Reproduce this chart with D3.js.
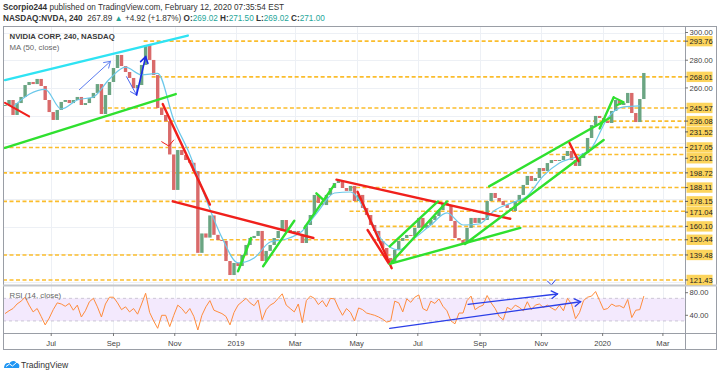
<!DOCTYPE html>
<html><head><meta charset="utf-8">
<script src="https://cdn.jsdelivr.net/npm/d3@7/dist/d3.min.js"></script>
<style>
html,body{margin:0;padding:0;background:#fff;}
svg{display:block;font-family:"Liberation Sans",Arial,sans-serif;}
</style></head><body>
<svg id="chart" width="720" height="373"></svg>
<script>
// ---------------- DATA ----------------
const startDate = "2018-05-16", stepDays = 4;
const closes = [
247.7,251.3,240.5,249.1,253.5,262.1,264.3,262.8,266.5,261.4,
251.3,242.6,236.9,244.1,249.9,251.3,249.1,251.3,253.5,247.7,
249.1,252.7,256.4,262.8,241.2,254.9,264.3,274.4,283.8,275.8,
271.5,267.2,259.9,262.1,276.6,291.0,280.2,269.3,245.5,240.5,
236.0,212.0,186.4,215.2,211.6,208.0,206.0,200.0,141.0,155.0,
152.0,168.0,154.0,150.3,149.6,135.1,125.0,133.7,131.5,139.5,
146.7,151.7,153.2,156.8,135.1,142.4,146.7,151.7,156.8,164.7,
157.5,156.8,156.8,153.9,148.1,161.1,168.3,182.8,177.0,175.5,
182.8,187.8,191.4,192.9,187.8,185.7,189.3,178.4,182.8,173.4,
168.3,161.1,156.8,149.6,144.5,137.3,134.4,143.1,149.6,151.7,
153.9,153.2,159.0,166.2,159.0,161.1,164.7,167.6,171.9,177.0,
175.5,164.0,151.7,150.3,148.1,159.0,166.2,162.6,166.2,164.7,
178.4,184.2,180.6,178.4,175.5,173.4,171.2,178.4,182.8,190.0,
196.5,192.9,195.0,202.2,200.1,205.8,208.0,207.3,208.0,210.9,
214.5,208.0,203.7,209.4,213.0,223.9,233.2,239.8,238.3,236.1,
234.7,243.4,251.3,247.7,249.1,256.4,241.9,235.4,252.0,270.8];

const maStart = 2, maStep = 4;
const maValues = [
246.3,255.5,259.0,244.8,251.3,253.5,266.5,275.0,269.5,270.5,
236.9,212.0,180.0,152.0,133.7,137.3,148.8,151.0,156.8,171.2,
184.2,184.9,169.8,149.6,143.1,151.7,161.1,169.8,161.1,161.8,
171.9,177.0,182.1,196.5,205.8,210.2,216.7,238.3,246.3,247.0];

const rsiValues = [
43,48,52,60,65,72,58,46,52,38,
23,35,50,62,60,56,61,49,58,37,
48,64,70,55,37,60,72,72,62,50,
55,46,52,42,60,79,45,30,17,40,
40,20,40,58,52,43,52,38,14,40,
55,66,49,46,43,38,23,45,58,64,
70,62,57,67,32,50,58,62,70,78,
58,52,46,60,27,66,74,70,59,66,
55,70,69,53,40,52,45,30,53,50,
44,42,40,37,33,28,30,65,62,46,
69,63,72,76,52,48,65,61,69,56,
48,30,25,44,44,66,74,50,55,58,
75,62,52,38,32,54,50,58,54,48,
64,50,58,60,54,58,53,49,58,48,
70,60,34,45,66,72,74,82,66,50,
52,60,56,57,53,68,36,49,50,74];

const levels     = [293.76,268.01,245.57,236.08,231.52,217.05,212.01,198.72,188.11,178.15,171.04,160.10,150.44,139.48,121.43];
const levelStart = ["2018-10-01","2018-10-09","2018-08-20","2018-08-24","2020-01-08","2018-05-14","2019-11-09","2018-05-14","2019-04-24","2018-05-14","2019-04-24","2019-05-24","2018-12-06","2018-05-14","2018-05-14"];
const priceTicks = [300,280,260,240,220,200,180,160,140,120];
const rsiTicks = [80,40];
const rsiBand = [30,70];
const viewStart = "2018-05-14", viewEnd = "2020-03-23";
const priceView = [117.8,304.7];
const rsiView = [8.7,93.6];

const trendLines = [
 {c:"#2fe3f3", w:2.4, p:[["2018-05-16",265.7],["2018-11-14",297.8]]},
 {c:"#2fe02f", w:2.4, p:[["2018-05-16",216.7],["2018-11-02",255.6]]},
 {c:"#f0201c", w:2.0, p:[["2018-05-16",249.3],["2018-06-09",239.4]]},
 {c:"#5b7cf0", w:1.0, p:[["2018-07-29",258.7],["2018-08-29",279.2]], arrow:true},
 {c:"#4a66ee", w:1.0, p:[["2018-09-14",268.1],["2018-09-24",254.9]], arrow:true},
 {c:"#1c2be6", w:1.6, p:[["2018-09-24",254.9],["2018-10-03",282.5]], arrow:true},
 {c:"#f0201c", w:2.4, p:[["2018-10-20",248.4],["2018-12-06",175.8]]},
 {c:"#f0201c", w:1.0, p:[["2018-10-19",221.2],["2018-10-26",218.1],["2018-10-31",222.4]]},
 {c:"#f0201c", w:2.4, p:[["2018-10-30",178.2],["2019-03-19",151.7]]},
 {c:"#2fe02f", w:2.4, p:[["2019-01-03",127.7],["2019-01-16",151.7]]},
 {c:"#2fe02f", w:2.4, p:[["2019-01-28",131.3],["2019-02-28",164.2]]},
 {c:"#2fe02f", w:2.4, p:[["2019-03-10",159.0],["2019-04-09",190.2]]},
 {c:"#2fe02f", w:2.4, p:[["2019-03-22",184.0],["2019-03-29",179.2]]},
 {c:"#f0201c", w:2.4, p:[["2019-04-11",193.8],["2019-10-01",165.6]]},
 {c:"#f0201c", w:2.4, p:[["2019-05-02",185.1],["2019-06-05",129.9]]},
 {c:"#f0201c", w:2.4, p:[["2019-05-12",157.5],["2019-06-02",133.5]]},
 {c:"#2fe02f", w:2.4, p:[["2019-06-03",145.6],["2019-07-21",178.1]]},
 {c:"#2fe02f", w:2.4, p:[["2019-06-05",134.4],["2019-07-30",178.1]]},
 {c:"#2fe02f", w:2.4, p:[["2019-06-03",133.0],["2019-10-11",159.0]]},
 {c:"#2fe02f", w:2.4, p:[["2019-09-10",189.0],["2020-01-08",238.3]]},
 {c:"#2fe02f", w:2.4, p:[["2019-08-17",147.4],["2020-01-02",222.4]]},
 {c:"#f0201c", w:2.4, p:[["2019-11-29",220.3],["2019-12-08",207.1]]},
 {c:"#2fe02f", w:2.4, p:[["2019-12-29",230.8],["2020-01-12",253.2]]},
 {c:"#2fe02f", w:2.0, p:[["2020-01-12",253.2],["2020-01-22",249.7],["2020-01-15",247.5]]},
 {c:"#2b3fe8", w:1.0, p:[["2019-11-07",120.7],["2019-11-11",117.8],["2019-11-15",121.4]]}
];
const rsiTrendLines = [
 {c:"#2b3fe8", w:1.3, p:[["2019-06-03",17],["2019-12-10",64]], arrow:true},
 {c:"#2b3fe8", w:1.3, p:[["2019-08-20",59.5],["2019-11-17",77.7]], arrow:true}
];

// ---------------- CHART ----------------
const parse = d3.utcParse("%Y-%m-%d");
const t0 = parse(startDate);
const dateAt = i => d3.utcDay.offset(t0, i*stepDays);

const L=3, R=685, TOP=26, PB=285, RB=333, BOT=350, FR=717;
const x  = d3.scaleUtc().domain([parse(viewStart), parse(viewEnd)]).range([L,R]);
const y  = d3.scaleLinear().domain(priceView).range([PB,TOP]);
const yr = d3.scaleLinear().domain(rsiView).range([RB,PB]);

const svg = d3.select("#chart");
svg.append("rect").attr("width",720).attr("height",373).attr("fill","#fff");
const defs = svg.append("defs");
defs.append("clipPath").attr("id","cp").append("rect").attr("x",L).attr("y",TOP).attr("width",R-L).attr("height",PB-TOP);
defs.append("clipPath").attr("id","cr").append("rect").attr("x",L).attr("y",PB).attr("width",R-L).attr("height",RB-PB);

// grid
const xt = x.ticks(d3.utcMonth.every(2));
const grid = svg.append("g");
grid.selectAll("line.v").data(xt).join("line").attr("class","v")
  .attr("x1",d=>Math.round(x(d))+.5).attr("x2",d=>Math.round(x(d))+.5)
  .attr("y1",TOP).attr("y2",RB).attr("stroke","#edf0f5").attr("stroke-width",1);
grid.selectAll("line.h").data(priceTicks).join("line").attr("class","h")
  .attr("x1",L).attr("x2",R).attr("y1",d=>Math.round(y(d))+.5).attr("y2",d=>Math.round(y(d))+.5)
  .attr("stroke","#edf0f5");

// RSI band
const rp = svg.append("g").attr("clip-path","url(#cr)");
rp.append("rect").attr("x",L).attr("width",R-L).attr("y",yr(rsiBand[1])).attr("height",yr(rsiBand[0])-yr(rsiBand[1])).attr("fill","#f3e9fd");
rp.selectAll("line.b").data(rsiBand).join("line").attr("class","b")
  .attr("x1",L).attr("x2",R).attr("y1",d=>yr(d)).attr("y2",d=>yr(d))
  .attr("stroke","#b9b4c4").attr("stroke-width",0.7).attr("stroke-dasharray","3,3");

// price pane
const pp = svg.append("g").attr("clip-path","url(#cp)");
pp.selectAll("line.lvl").data(levels).join("line").attr("class","lvl")
  .attr("x1",(d,i)=>x(parse(levelStart[i]))).attr("x2",R)
  .attr("y1",d=>y(d)).attr("y2",d=>y(d))
  .attr("stroke","#fbbd2c").attr("stroke-width",1.6).attr("stroke-dasharray","4,2.5");

const candles = closes.map((c,i)=>({d:dateAt(i), o: i ? closes[i-1] : c, c}));
pp.selectAll("rect.cdl").data(candles).join("rect").attr("class","cdl")
  .attr("x",d=>x(d.d)-1.7).attr("width",3.4)
  .attr("y",d=>y(Math.max(d.o,d.c)))
  .attr("height",d=>Math.max(1,Math.abs(y(d.o)-y(d.c))))
  .attr("fill",d=>d.c>=d.o?"#6ba583":"#d96a6a");

const maPts = maValues.map((v,k)=>({d:dateAt(maStart+k*maStep), v}));
pp.append("path").datum(maPts)
  .attr("d", d3.line().x(d=>x(d.d)).y(d=>y(d.v)).curve(d3.curveMonotoneX))
  .attr("fill","none").attr("stroke","#6cc8ea").attr("stroke-width",1.2);

function drawLines(g, list, ys){
  list.forEach(t=>{
    const pts = t.p.map(q=>[x(parse(q[0])), ys(q[1])]);
    g.append("path").attr("d", d3.line()(pts)).attr("fill","none")
      .attr("stroke",t.c).attr("stroke-width",t.w).attr("stroke-linecap","round").attr("stroke-linejoin","round");
    if(t.arrow){
      const [a,b] = pts.slice(-2);
      const ang = Math.atan2(b[1]-a[1], b[0]-a[0]);
      const len = 7;
      const h = [ang+Math.PI*0.82, ang-Math.PI*0.82].map(q=>[b[0]+len*Math.cos(q), b[1]+len*Math.sin(q)]);
      g.append("path").attr("d", d3.line()([h[0],b,h[1]])).attr("fill","none")
        .attr("stroke",t.c).attr("stroke-width",t.w).attr("stroke-linecap","round");
    }
  });
}
drawLines(pp, trendLines, y);

// RSI line
const rsiPts = rsiValues.map((v,i)=>({d:dateAt(i), v}));
rp.append("path").datum(rsiPts)
  .attr("d", d3.line().x(d=>x(d.d)).y(d=>yr(d.v)))
  .attr("fill","none").attr("stroke","#ff8c3c").attr("stroke-width",1);
drawLines(rp, rsiTrendLines, yr);

// frame & separators
const fr = svg.append("g").attr("fill","none");
fr.append("rect").attr("x",L+.5).attr("y",TOP+.5).attr("width",FR-L-1).attr("height",BOT-TOP-1).attr("stroke","#9a9ea6");
fr.append("line").attr("x1",R+.5).attr("x2",R+.5).attr("y1",TOP).attr("y2",BOT).attr("stroke","#9a9ea6");
fr.append("line").attr("x1",L).attr("x2",FR).attr("y1",PB+.5).attr("y2",PB+.5).attr("stroke","#c4c7cc").attr("stroke-width",2);
fr.append("line").attr("x1",L).attr("x2",FR).attr("y1",RB+.5).attr("y2",RB+.5).attr("stroke","#9a9ea6");

// level labels positions (pushed apart when overlapping)
let prev = -1e9;
const lvlLabels = levels.map(v=>({v, yy:y(v)})).sort((a,b)=>a.yy-b.yy).map(o=>{
  const yy = Math.max(o.yy, prev+10.8); prev = yy; return {v:o.v, yy};
});

// price axis
const ax = svg.append("g").style("font-size","7.6px").attr("fill","#444");
priceTicks.forEach(v=>{
  const yy = y(v);
  if (lvlLabels.some(l=>Math.abs(l.yy-yy)<8.2)) return;
  ax.append("line").attr("x1",R).attr("x2",R+3).attr("y1",yy).attr("y2",yy).attr("stroke","#777");
  ax.append("text").attr("x",R+4.5).attr("y",yy).attr("dy","0.35em").text(d3.format(".2f")(v));
});
rsiTicks.forEach(v=>{
  ax.append("line").attr("x1",R).attr("x2",R+3).attr("y1",yr(v)).attr("y2",yr(v)).attr("stroke","#777");
  ax.append("text").attr("x",R+4.5).attr("y",yr(v)).attr("dy","0.35em").text(d3.format(".2f")(v));
});
lvlLabels.forEach(o=>{
  ax.append("rect").attr("x",R+1.5).attr("y",o.yy-5.2).attr("width",26).attr("height",10.4).attr("fill","#fcd45c");
  ax.append("line").attr("x1",R).attr("x2",R+3).attr("y1",o.yy).attr("y2",o.yy).attr("stroke","#555");
  ax.append("text").attr("x",R+4.5).attr("y",o.yy).attr("dy","0.35em").attr("fill","#222").text(d3.format(".2f")(o.v));
});

// time axis
const fmtM = d3.utcFormat("%b"), fmtY = d3.utcFormat("%Y");
const tx = svg.append("g").style("font-size","7.6px").attr("fill","#444").attr("text-anchor","middle");
xt.forEach(d=>{
  tx.append("line").attr("x1",x(d)).attr("x2",x(d)).attr("y1",RB).attr("y2",RB+3).attr("stroke","#777");
  tx.append("text").attr("x",x(d)).attr("y",346).text(d.getUTCMonth()===0?fmtY(d):fmtM(d));
});

// titles
const t1 = svg.append("text").attr("x",3).attr("y",10).style("font-size","8.2px").attr("fill","#333");
t1.append("tspan").attr("font-weight","bold").text("Scorpio244");
t1.append("tspan").text(" published on TradingView.com, February 12, 2020 07:35:54 EST");
const t2 = svg.append("text").attr("x",3).attr("y",21).style("font-size","8.2px").attr("fill","#333").style("white-space","pre");
const teal="#26a69a";
[["NASDAQ:NVDA, 240","b"],["  267.89 ",""],["▲",teal],[" +4.92 (+1.87%) ",""],["O:","b"],["269.02",teal],[" H:","b"],["271.50",teal],[" L:","b"],["269.02",teal],[" C:","b"],["271.00",teal]]
.forEach(([s,st])=>{
  const ts=t2.append("tspan").text(s);
  if(st==="b") ts.attr("font-weight","bold");
  else if(st) ts.attr("fill",st);
});
svg.append("text").attr("x",9.5).attr("y",39).style("font-size","7.8px").attr("font-weight","bold").attr("fill","#3a3a3a").text("NVIDIA CORP, 240, NASDAQ");
svg.append("text").attr("x",9.5).attr("y",50).style("font-size","7.8px").attr("fill","#666").text("MA (50, close)");
svg.append("text").attr("x",9.5).attr("y",298).style("font-size","7.8px").attr("fill","#666").text("RSI (14, close)");

// TradingView logo
const lg = svg.append("g");
lg.append("path").attr("d","M4,368 C4,364 7,362 9.5,363.5 C10.5,360.5 15,360 16.5,363 C19,363 20,365.5 19,368 Z").attr("fill","#2196f3");
lg.append("path").attr("d","M6,366.5 L9.5,364 L12.5,366 L16.5,362.5").attr("fill","none").attr("stroke","#fff").attr("stroke-width",1);
svg.append("text").attr("x",21).attr("y",368).style("font-size","8.6px").attr("fill","#333").text("TradingView");
</script>
</body></html>
